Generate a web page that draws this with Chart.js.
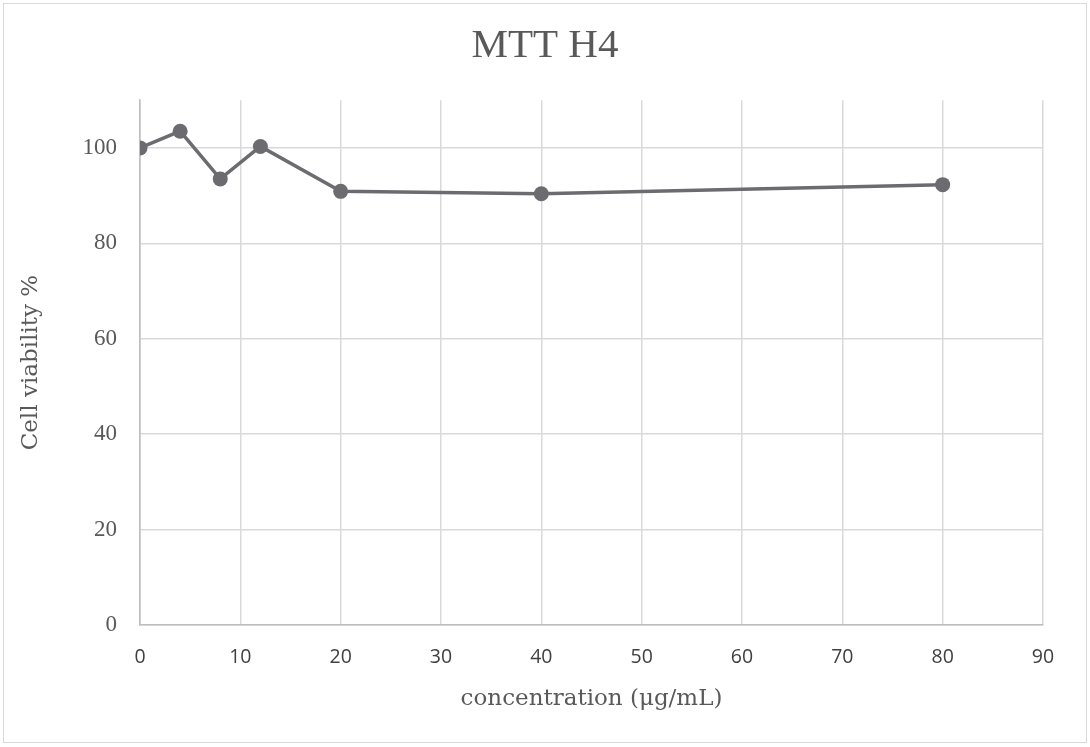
<!DOCTYPE html>
<html>
<head>
<meta charset="utf-8">
<script src="https://cdn.jsdelivr.net/npm/chart.js@4"></script>
<style>
  html, body { margin: 0; padding: 0; background: #ffffff; }
  #wrap { position: relative; width: 1090px; height: 747px; }
  #frame { position: absolute; left: 3px; top: 3px; width: 1082px; height: 738px; border: 1px solid #d9d9d9; }
  #c { position: absolute; left: 0; top: 0; }
</style>
</head>
<body>
<div id="wrap">
  <div id="frame"></div>
  <canvas id="c" width="1090" height="747"></canvas>
</div>
<script>
const chartTitle = "MTT H4";
const xAxisTitle = "concentration (\u03bcg/mL)";
const yAxisTitle = "Cell viability %";
const concentrations = [0, 4, 8, 12, 20, 40, 80];
const viability = [100, 103.5, 93.5, 100.3, 90.9, 90.4, 92.3];
const xTicks = [0, 10, 20, 30, 40, 50, 60, 70, 80, 90];
const yTicks = [0, 20, 40, 60, 80, 100];

const points = concentrations.map((x, i) => ({ x: x, y: viability[i] }));

new Chart(document.getElementById('c'), {
  type: 'scatter',
  data: {
    datasets: [{
      data: points,
      showLine: true,
      borderColor: '#6c6b70',
      backgroundColor: '#6c6b70',
      borderWidth: 3.5,
      pointRadius: 7.5,
      pointHoverRadius: 7.5,
      pointBorderWidth: 0,
      tension: 0,
      yAxisID: 'y'
    }]
  },
  options: {
    responsive: false,
    animation: false,
    devicePixelRatio: 1,
    layout: { padding: { left: 0, right: 0, top: 0, bottom: 0 } },
    plugins: {
      legend: { display: false },
      tooltip: { enabled: false },
      title: {
        display: true,
        text: chartTitle,
        color: '#595959',
        font: { family: 'Liberation Serif', size: 41, weight: 'normal', lineHeight: 1.2 },
        padding: { top: 22, bottom: 29 }
      }
    },
    scales: {
      x: {
        type: 'linear',
        min: xTicks[0],
        max: xTicks[xTicks.length - 1],
        afterFit: s => { s.height = 122; },
        afterBuildTicks: s => { s.ticks = xTicks.map(v => ({ value: v })); },
        grid: {
          drawTicks: false,
          color: ctx => (ctx.tick && ctx.tick.value === 0) ? '#bfbfbf' : '#d9d9d9',
          lineWidth: 1.5
        },
        border: { display: true, color: '#bfbfbf', width: 1.5 },
        ticks: {
          padding: 21,
          color: '#404040',
          font: { family: 'Open Sans', size: 19.5 }
        },
        title: {
          display: true,
          text: xAxisTitle,
          color: '#595959',
          font: { family: 'DejaVu Serif', size: 23, lineHeight: 1.2 },
          padding: { top: 0, bottom: 34 }
        }
      },
      y: {
        type: 'linear',
        position: 'left',
        min: 0,
        max: 110,
        afterFit: s => { s.width = 140; },
        afterBuildTicks: s => { s.ticks = yTicks.map(v => ({ value: v })); },
        grid: {
          drawTicks: false,
          color: '#d9d9d9',
          lineWidth: 1.5
        },
        border: { display: true, color: '#bfbfbf', width: 1.5 },
        ticks: {
          padding: 23,
          color: '#595959',
          font: { family: 'Liberation Serif', size: 23 }
        },
        title: {
          display: true,
          text: yAxisTitle,
          color: '#595959',
          font: { family: 'DejaVu Serif', size: 23, lineHeight: 1.2 },
          padding: { top: 17, bottom: 0 }
        }
      },
      yRightSpacer: {
        type: 'linear',
        position: 'right',
        min: 0,
        max: 110,
        afterFit: s => { s.width = 47; },
        grid: { display: false, drawOnChartArea: false, drawTicks: false },
        border: { display: false },
        ticks: { display: false },
        title: { display: false }
      }
    }
  }
});
</script>
</body>
</html>
